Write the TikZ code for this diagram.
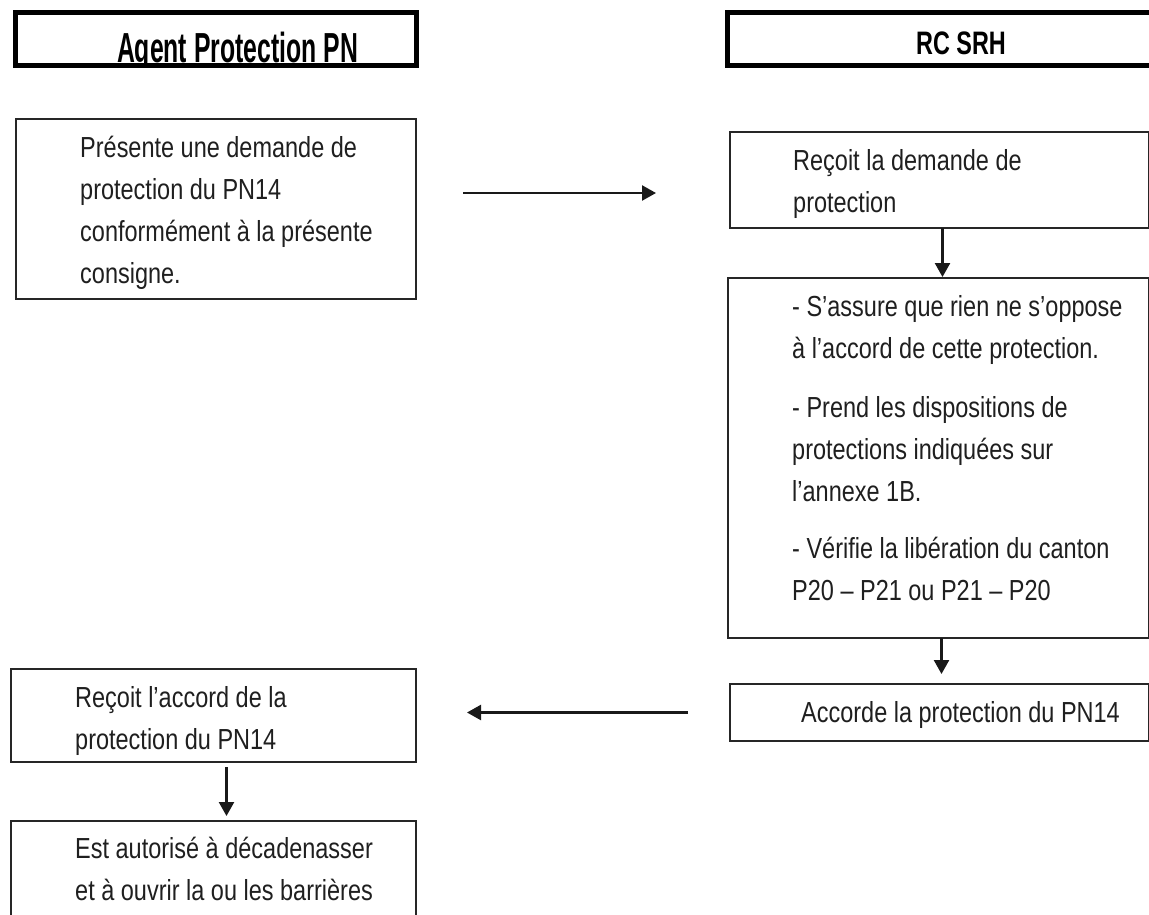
\documentclass[tikz,border=0pt]{standalone}
\usepackage{fontspec}
\usepackage{graphicx}
\setmainfont{Liberation Sans}
\newfontfamily\narrowfont[FakeStretch=0.81]{Liberation Sans}
\usetikzlibrary{arrows.meta,calc}
\newcommand\blines[1]{\vtop{\baselineskip=42pt\lineskiplimit=0pt#1}}
\begin{document}
\begin{tikzpicture}[x=1pt,y=-1pt]
\tikzset{
 box/.style={draw=black!85, line width=1.8pt, inner sep=0, outer sep=0, anchor=north west, rectangle},
 head/.style={draw=black, line width=5pt, inner sep=0, outer sep=0, anchor=north west, rectangle},
 txt/.style={font={\narrowfont\fontsize{29}{42}\selectfont}, text=black!88, anchor=base west, inner sep=0},
 arr/.style={draw=black!90, line width=2.4pt, -{Triangle[width=15pt,length=14pt]}},
}
\useasboundingbox[fill=white] (0,0) rectangle (1149,914);

% headers
\node[head, minimum width=401pt, minimum height=53pt] (hL) at (15.5,12.5) {};
\node[head, minimum width=425pt, minimum height=53pt] (hR) at (727.5,12.5) {};
\begin{scope}
\clip (18,15) rectangle (414,63);
\node[anchor=base, font=\fontsize{42}{42}\selectfont\bfseries, inner sep=0] (tL) at (237.5,62) {\scalebox{0.59}[1]{Agent Protection PN}};
\end{scope}
\node[anchor=base, font=\fontsize{32.5}{33}\selectfont\bfseries, inner sep=0] (tR) at (961,54) {\scalebox{0.72}[1]{RC SRH}};

% boxes
\node[box, minimum width=400pt, minimum height=180pt] (b1) at (16,119) {};
\node[txt] (t1) at (80,157) {\blines{\hbox{Présente une demande de}\hbox{protection du PN14}\hbox{conformément à la présente}\hbox{consigne.}}};

\node[box, minimum width=419pt, minimum height=96pt] (b2) at (730,132) {};
\node[txt] (t2) at (793,170) {\blines{\hbox{Reçoit la demande de}\hbox{protection}}};

\node[box, minimum width=421pt, minimum height=360pt] (b3) at (728,278) {};
\node[txt] (t3) at (792,316) {\blines{\hbox{- S’assure que rien ne s’oppose}\hbox{à l’accord de cette protection.}\vskip17pt\hbox{- Prend les dispositions de}\hbox{protections indiquées sur}\hbox{l’annexe 1B.}\vskip15pt\hbox{- Vérifie la libération du canton}\hbox{P20 – P21 ou P21 – P20}}};

\node[box, minimum width=419pt, minimum height=57pt] (b4) at (730,684) {};
\node[txt] (t4) at (801,722) {Accorde la protection du PN14};

\node[box, minimum width=405pt, minimum height=93pt] (b5) at (11,669) {};
\node[txt] (t5) at (75,707) {\blines{\hbox{Reçoit l’accord de la}\hbox{protection du PN14}}};

\node[box, minimum width=405pt, minimum height=120pt] (b6) at (11,821) {};
\node[txt] (t6) at (75,858) {\blines{\hbox{Est autorisé à décadenasser}\hbox{et à ouvrir la ou les barrières}}};

% connectors
\draw[arr] ($(b1.east)+(47,-16)$) -- ($(b2.west |- b1.east)+(-74,-16)$);
\draw[arr] ($(b2.south)+(3,0)$) -- ($(b3.north -| b2.south)+(3,-1)$);
\draw[arr] ($(b3.south)+(3,0)$) -- ($(b4.north -| b3.south)+(3,-10)$);
\draw[arr] ($(b4.west)+(-42,0)$) -- ($(b5.east |- b4.west)+(51,0)$);
\draw[arr] ($(b5.south)+(13,5)$) -- ($(b6.north -| b5.south)+(13,-5)$);
\end{tikzpicture}
\end{document}
